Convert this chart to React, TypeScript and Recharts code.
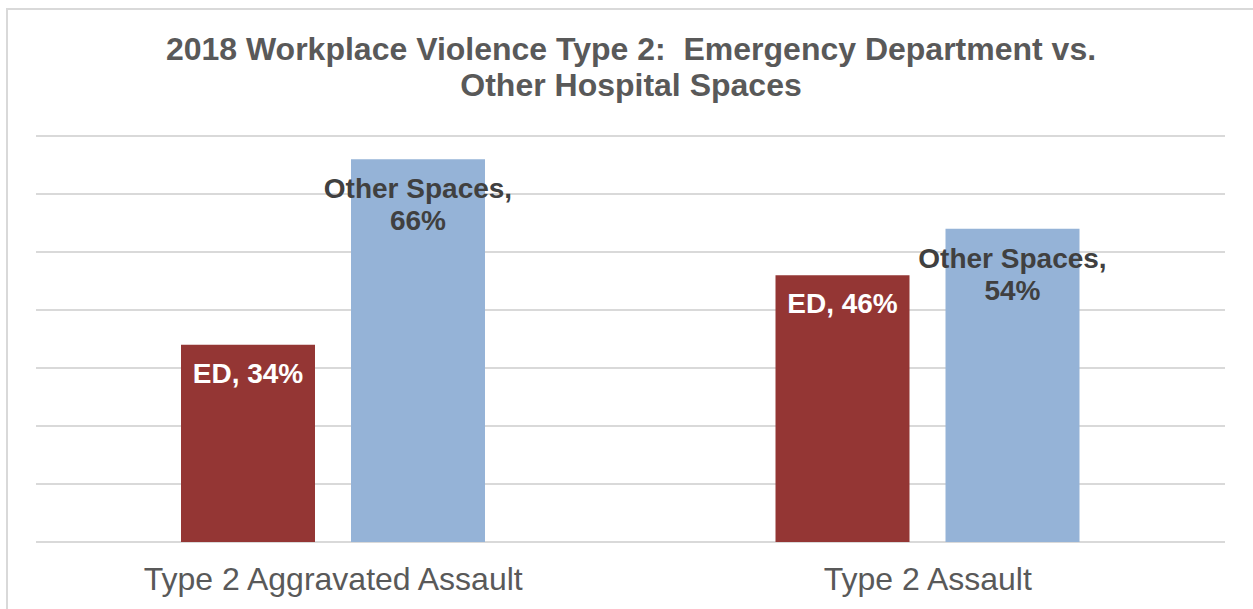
import React from "react";
import { BarChart, Bar, XAxis, YAxis, CartesianGrid, LabelList } from "recharts";

const categories = ["Type 2 Aggravated Assault", "Type 2 Assault"];
const edValues = [34, 46];
const otherValues = [66, 54];
const yTicks = [0, 10, 20, 30, 40, 50, 60, 70];
const titleLines = [
  "2018 Workplace Violence Type 2:  Emergency Department vs.",
  "Other Hospital Spaces",
];

const FONT = '"Liberation Sans", Arial, sans-serif';

const data = categories.map((name, i) => ({
  name,
  ed: edValues[i],
  other: otherValues[i],
}));

// label inside the top of the red bar
const EdLabel = (props: any) => {
  const { x, y, width, value } = props;
  return (
    <text
      x={x + width / 2}
      y={y + 38}
      textAnchor="middle"
      fill="#ffffff"
      fontFamily={FONT}
      fontWeight="bold"
      fontSize={28}
    >
      {`ED, ${value}%`}
    </text>
  );
};

// two-line label for the blue bar
const OtherLabel = (props: any) => {
  const { x, y, width, value } = props;
  const cx = x + width / 2;
  return (
    <text
      textAnchor="middle"
      fill="#404040"
      fontFamily={FONT}
      fontWeight="bold"
      fontSize={28}
    >
      <tspan x={cx} y={y + 39}>
        Other Spaces,
      </tspan>
      <tspan x={cx} y={y + 71}>
        {`${value}%`}
      </tspan>
    </text>
  );
};

const CategoryTick = (props: any) => {
  const { x, y, payload } = props;
  return (
    <text
      x={x}
      y={y + 48}
      textAnchor="middle"
      fill="#595959"
      fontFamily={FONT}
      fontSize={32}
    >
      {payload.value}
    </text>
  );
};

export default function App() {
  return (
    <div
      style={{
        position: "absolute",
        left: 0,
        top: 0,
        width: 1253,
        height: 609,
        background: "#fff",
        overflow: "hidden",
      }}
    >
      {/* chart frame, only left and top edges visible */}
      <div
        style={{
          position: "absolute",
          left: 6,
          top: 8,
          width: 1247,
          height: 601,
          boxSizing: "border-box",
          borderLeft: "2px solid #d9d9d9",
          borderTop: "2px solid #d9d9d9",
        }}
      />
      <svg
        width={1253}
        height={110}
        style={{ position: "absolute", left: 0, top: 0, pointerEvents: "none" }}
      >
        {titleLines.map((line, i) => (
          <text
            key={i}
            x={631}
            y={60 + i * 36}
            textAnchor="middle"
            fill="#595959"
            fontFamily={FONT}
            fontWeight="bold"
            fontSize={32}
            style={{ whiteSpace: "pre" }}
          >
            {line}
          </text>
        ))}
      </svg>
      <div style={{ position: "absolute", left: 0, top: 0 }}>
        <BarChart
          width={1253}
          height={609}
          data={data}
          margin={{ top: 136, right: 28, left: 36, bottom: 7 }}
          barSize={134}
          barGap={36}
        >
          <CartesianGrid
            vertical={false}
            stroke="#d9d9d9"
            strokeWidth={2}
          />
          <XAxis
            dataKey="name"
            axisLine={false}
            tickLine={false}
            tickSize={0}
            tickMargin={0}
            height={60}
            tick={<CategoryTick />}
            interval={0}
          />
          <YAxis hide domain={[0, 70]} ticks={yTicks} />
          <Bar dataKey="ed" fill="#943634" isAnimationActive={false}>
            <LabelList dataKey="ed" content={<EdLabel />} />
          </Bar>
          <Bar dataKey="other" fill="#95B3D7" isAnimationActive={false}>
            <LabelList dataKey="other" content={<OtherLabel />} />
          </Bar>
        </BarChart>
      </div>
    </div>
  );
}
